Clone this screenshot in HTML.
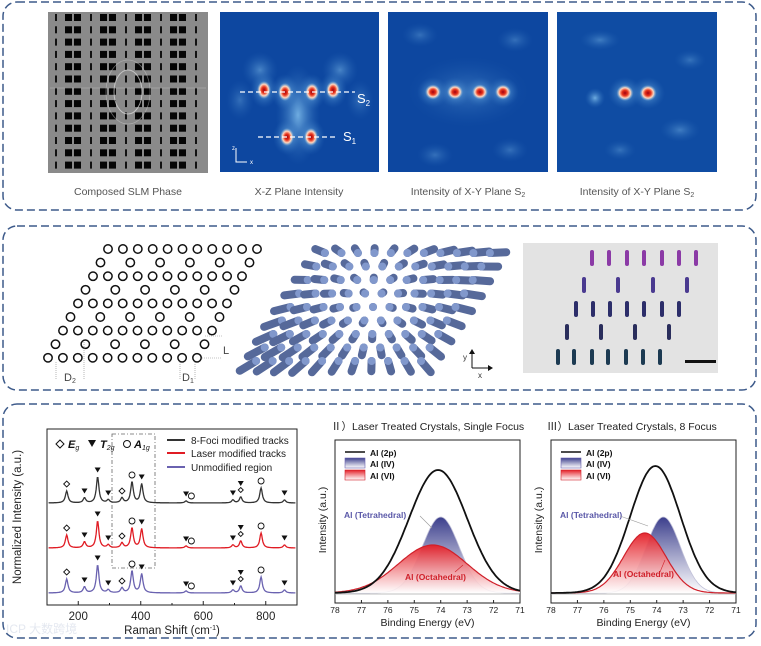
<!DOCTYPE html>
<html><head><meta charset="utf-8"><style>
html,body{margin:0;padding:0;background:#fff;}
svg{display:block;font-family:"Liberation Sans","Noto Sans CJK SC",sans-serif;}
</style></head><body>
<svg id="fig" width="761" height="646" viewBox="0 0 761 646">
<defs>
 <radialGradient id="spotR" cx="50%" cy="50%" r="50%"><stop offset="0" stop-color="#a00010"/><stop offset="0.35" stop-color="#e8361c"/><stop offset="0.65" stop-color="#ffd7c0"/><stop offset="1" stop-color="#6fb0e0" stop-opacity="0"/></radialGradient>
 <radialGradient id="glow" cx="50%" cy="50%" r="50%"><stop offset="0" stop-color="#7ab8e8" stop-opacity="0.9"/><stop offset="1" stop-color="#2a6ab8" stop-opacity="0"/></radialGradient>
 <linearGradient id="gBlue" x1="0" y1="0" x2="0" y2="1"><stop offset="0" stop-color="#3b3e8c"/><stop offset="1" stop-color="#ffffff" stop-opacity="0.9"/></linearGradient>
 <linearGradient id="gRed" x1="0" y1="0" x2="0" y2="1"><stop offset="0" stop-color="#e41e26"/><stop offset="1" stop-color="#ffffff" stop-opacity="0.9"/></linearGradient>
 <clipPath id="cpA"><rect x="220" y="12" width="159" height="160"/></clipPath>
 <clipPath id="cpB"><rect x="388" y="12" width="160" height="160"/></clipPath>
 <clipPath id="cpC"><rect x="557" y="12" width="160" height="160"/></clipPath>
</defs>

<rect x="3" y="2" width="753" height="208" rx="14" fill="none" stroke="#3d5a8a" stroke-width="1.5" stroke-dasharray="8 4"/>
<rect x="3" y="226" width="753" height="164" rx="14" fill="none" stroke="#3d5a8a" stroke-width="1.5" stroke-dasharray="8 4"/>
<rect x="3" y="404" width="753" height="234" rx="14" fill="none" stroke="#3d5a8a" stroke-width="1.5" stroke-dasharray="8 4"/>

<g id="slm"><rect x="48" y="12" width="160" height="161" fill="#8a8a8a"/></g>
<g clip-path="url(#cpA)">
 <rect x="220" y="12" width="159" height="160" fill="#0d47a0"/>
 <ellipse cx="298" cy="115" rx="22" ry="50" fill="url(#glow)"/>
 <ellipse cx="260" cy="70" rx="18" ry="18" fill="url(#glow)" opacity="0.6"/>
 <ellipse cx="340" cy="70" rx="18" ry="18" fill="url(#glow)" opacity="0.6"/>
 <ellipse cx="240" cy="100" rx="14" ry="20" fill="url(#glow)" opacity="0.4"/>
 <ellipse cx="360" cy="100" rx="14" ry="20" fill="url(#glow)" opacity="0.4"/>
 <g id="xzspots"></g>
 <line x1="240" y1="92" x2="355" y2="92" stroke="#fff" stroke-dasharray="5 3" stroke-width="1.2"/>
 <line x1="258" y1="137" x2="335" y2="137" stroke="#fff" stroke-dasharray="5 3" stroke-width="1.2"/>
 <text x="357" y="103" fill="#fff" font-size="13">S<tspan font-size="8" dy="3">2</tspan></text>
 <text x="343" y="141" fill="#fff" font-size="13">S<tspan font-size="8" dy="3">1</tspan></text>
 <path d="M236 148 V162 H247" stroke="#fff" fill="none" stroke-width="1"/>
 <text x="232" y="150" fill="#fff" font-size="6">z</text><text x="250" y="164" fill="#fff" font-size="6">x</text>
</g>
<g clip-path="url(#cpB)">
 <rect x="388" y="12" width="160" height="160" fill="#0d47a0"/>
 <ellipse cx="468" cy="92" rx="60" ry="35" fill="url(#glow)" opacity="0.4"/>
 <ellipse cx="420" cy="35" rx="18" ry="12" fill="url(#glow)" opacity="0.4"/>
 <ellipse cx="515" cy="40" rx="18" ry="12" fill="url(#glow)" opacity="0.4"/>
 <ellipse cx="435" cy="155" rx="18" ry="12" fill="url(#glow)" opacity="0.4"/>
 <ellipse cx="510" cy="150" rx="18" ry="12" fill="url(#glow)" opacity="0.4"/>
 <g id="xy1spots"></g>
</g>
<g clip-path="url(#cpC)">
 <rect x="557" y="12" width="160" height="160" fill="#0f4ca3"/>
 <ellipse cx="595" cy="98" rx="10" ry="10" fill="url(#glow)"/>
 <ellipse cx="600" cy="40" rx="20" ry="10" fill="url(#glow)" opacity="0.5"/>
 <ellipse cx="680" cy="130" rx="20" ry="12" fill="url(#glow)" opacity="0.5"/>
 <ellipse cx="690" cy="60" rx="16" ry="10" fill="url(#glow)" opacity="0.4"/>
 <ellipse cx="620" cy="150" rx="16" ry="10" fill="url(#glow)" opacity="0.4"/>
 <g id="xy2spots"></g>
</g>
<g font-size="10.5" fill="#555" text-anchor="middle">
 <text x="128" y="195">Composed SLM Phase</text>
 <text x="299" y="195">X-Z Plane Intensity</text>
 <text x="468" y="195">Intensity of X-Y Plane S<tspan font-size="7" dy="2">2</tspan></text>
 <text x="637" y="195">Intensity of X-Y Plane S<tspan font-size="7" dy="2">2</tspan></text>
</g>

<g id="hexgrid"></g>
<g font-size="11" fill="#444">
 <line x1="205" y1="336" x2="222" y2="336" stroke="#888" stroke-width="0.6" stroke-dasharray="1 1"/>
 <line x1="200" y1="358" x2="222" y2="358" stroke="#888" stroke-width="0.6" stroke-dasharray="1 1"/>
 <text x="223" y="354">L</text>
 <line x1="56" y1="362" x2="56" y2="380" stroke="#888" stroke-width="0.6" stroke-dasharray="1 1"/>
 <line x1="84" y1="342" x2="84" y2="380" stroke="#888" stroke-width="0.6" stroke-dasharray="1 1"/>
 <text x="64" y="381">D<tspan font-size="7" dy="2">2</tspan></text>
 <line x1="180" y1="362" x2="180" y2="380" stroke="#888" stroke-width="0.6" stroke-dasharray="1 1"/>
 <line x1="195" y1="362" x2="195" y2="380" stroke="#888" stroke-width="0.6" stroke-dasharray="1 1"/>
 <text x="182" y="381">D<tspan font-size="7" dy="2">1</tspan></text>
</g>
<g id="cyl"></g>
<g font-size="8" fill="#333">
 <path d="M472 368 V352 M472 368 H490" stroke="#111" stroke-width="1" fill="none"/>
 <path d="M469 354 L472 349 L475 354 Z M488 365 L493 368 L488 371 Z" fill="#111"/>
 <text x="463" y="360">y</text><text x="478" y="378">x</text>
</g>
<g>
 <rect x="523" y="243" width="195" height="130" fill="#e3e3e3"/>
 <g id="marks"></g>
 <rect x="685" y="360" width="31" height="3" fill="#111"/>
</g>

<g id="raman">
 <rect x="47" y="429" width="250" height="176" fill="none" stroke="#222" stroke-width="1"/>
 <rect x="112" y="434" width="43" height="134" fill="none" stroke="#666" stroke-width="0.8" stroke-dasharray="4 2 1 2"/>
 <g id="ramanAxis"></g>
 <g id="ramanLines"></g>
 <g id="ramanMarks"></g>
 <text x="21" y="517" transform="rotate(-90 21 517)" text-anchor="middle" font-size="11.5" fill="#222">Normalized Intensity (a.u.)</text>
 <text x="172" y="634" text-anchor="middle" font-size="11.5" fill="#222">Raman Shift (cm<tspan font-size="7" dy="-4">-1</tspan><tspan dy="4">)</tspan></text>
 <g font-size="11" fill="#111">
  <path d="M56 444 L60 440 L64 444 L60 448 Z" fill="none" stroke="#111" stroke-width="1"/>
  <text x="68" y="448" font-weight="bold" font-style="italic">E<tspan font-size="7" dy="2" font-weight="normal">g</tspan></text>
  <path d="M88 440 L96 440 L92 447 Z" fill="#111"/>
  <text x="100" y="448" font-weight="bold" font-style="italic">T<tspan font-size="7" dy="2" font-weight="normal">2g</tspan></text>
  <circle cx="127" cy="444" r="3.5" fill="none" stroke="#111"/>
  <text x="134" y="448" font-weight="bold" font-style="italic">A<tspan font-size="7" dy="2" font-weight="normal">1g</tspan></text>
 </g>
 <g font-size="10" fill="#222">
  <line x1="167" y1="440" x2="185" y2="440" stroke="#333" stroke-width="2"/><text x="191" y="444">8-Foci modified tracks</text>
  <line x1="167" y1="453" x2="185" y2="453" stroke="#e01c24" stroke-width="2"/><text x="191" y="457">Laser modified tracks</text>
  <line x1="167" y1="467" x2="185" y2="467" stroke="#6a62b0" stroke-width="2"/><text x="191" y="471">Unmodified region</text>
 </g>
</g>

<g id="xps1"></g>
<g id="xps2"></g>

<text x="6" y="633" font-size="12" fill="#e4e8f0">ICP 大数跨境</text>
</svg>

<script>
const ramanPeakPos = [163,220,262,296,340,372,403,545,695,720,785,860];
const ramanBlack = [12,5,26,3,5,21,19,2,3,6,15,3];
const ramanRed   = [13,6,27,3,5,20,19,2,3,7,15,3];
const ramanBlue  = [14,6,28,3,5,22,19,2,3,7,16,3];
const ramanMarkerType = ['d','t','t','t','d','c','t','t','t','td','c','t'];
const ramanTicks = [200,400,600,800];
const xps1Total = [74.1,123,1.1];
const xps1Tet   = [74.0,76,0.7];
const xps1Oct   = [74.3,48,1.3];
const xps2Total = [74.05,127,0.95];
const xps2Tet   = [73.75,76,0.65];
const xps2Oct   = [74.45,60,0.8];
const xpsTicks = [78,77,76,75,74,73,72,71];

const NS='http://www.w3.org/2000/svg';
function mk(tag,attrs,parent){const e=document.createElementNS(NS,tag);for(const k in attrs)e.setAttribute(k,attrs[k]);if(parent)parent.appendChild(e);return e;}
const $=id=>document.getElementById(id);

(function(){const g=$('slm');
 for(let r=0;r<13;r++){const y=14+r*12.3;
  for(let p=0;p<5;p++){const bx=56+p*35;
   mk('rect',{x:bx-1,y:y,width:2,height:7,fill:'#111'},g);
   if(p<4){mk('rect',{x:bx+9,y:y,width:7,height:7,fill:'#050505'},g);mk('rect',{x:bx+18,y:y,width:7,height:7,fill:'#050505'},g);}
  }}
 mk('ellipse',{cx:128,cy:92,rx:14,ry:22,fill:'none',stroke:'#ddd','stroke-width':1,opacity:0.7},g);
 mk('ellipse',{cx:128,cy:92,rx:22,ry:32,fill:'none',stroke:'#ccc','stroke-width':0.8,opacity:0.5},g);
 mk('line',{x1:50,y1:88,x2:206,y2:88,stroke:'#bbb','stroke-width':1,opacity:0.5},g);
})();
function spots(id,pts,rx,ry){const g=$(id);pts.forEach(p=>{mk('ellipse',{cx:p[0],cy:p[1],rx:rx*2,ry:ry*2,fill:'url(#glow)'},g);mk('ellipse',{cx:p[0],cy:p[1],rx:rx,ry:ry,fill:'url(#spotR)'},g);});}
spots('xzspots',[[264,90],[285,92],[312,92],[333,90],[287,137],[311,137]],7,9);
spots('xy1spots',[[433,92],[455,92],[480,92],[503,92]],8,7.5);
spots('xy2spots',[[625,93],[648,93]],8.5,8);

(function(){const g=$('hexgrid');
 for(let r=0;r<9;r++){const y=249+r*13.6;const x0=108-r*7.5;
  const dense=r%2===0;const n=dense?11:6;const sp=dense?14.9:29.8;
  for(let i=0;i<n;i++){const c=mk('circle',{cx:x0+i*sp,cy:y,r:4.2,fill:'none',stroke:'#111','stroke-width':1.5},g);
   
   }
 }})();

(function(){const g=$('cyl');const cx=373,cy=307;
 const items=[];
 for(let r=-4;r<=4;r++)for(let c=-5;c<=5;c++){
  const x=cx+c*16.5-r*8.6, y=cy+r*13.5;
  items.push([x,y]);}
 items.sort((a,b)=>a[1]-b[1]);
 items.forEach(([x,y])=>{const dx=x-cx,dy=y-cy;const d=Math.hypot(dx,dy);
  const L=Math.min(d*0.2,18); const ux=d?dx/d:0, uy=d?dy/d:0;
  const x2=x+ux*L, y2=y+uy*L*0.7+L*0.25;
  mk('line',{x1:x,y1:y,x2:x2,y2:y2,stroke:'#56699a','stroke-width':8,'stroke-linecap':'round'},g);
  mk('ellipse',{cx:x,cy:y,rx:4,ry:4,fill:'#8198cc'},g);
 });})();

(function(){const g=$('marks');
 const rows=[[258,[592,609,627,644,662,679,696],'#8b3aa6'],[285,[584,618,653,687],'#4a3a90'],[309,[576,593,610,627,644,662,679],'#2c2e6a'],[332,[567,601,635,669],'#2a2e5c'],[357,[558,574,592,608,626,643,660],'#1c3a52']];
 rows.forEach(([y,xs,col])=>xs.forEach(x=>mk('rect',{x:x-2,y:y-8,width:4,height:16,rx:2,fill:col},g)));})();

(function(){
 const X0=47,X1=297,D0=100,D1=900;
 const xs=v=>X0+(v-D0)/(D1-D0)*(X1-X0);
 const ax=$('ramanAxis');
 ramanTicks.forEach(t=>{mk('line',{x1:xs(t),y1:605,x2:xs(t),y2:601,stroke:'#222'},ax);
  const tx=mk('text',{x:xs(t),y:620,'text-anchor':'middle','font-size':'11.5',fill:'#222'},ax);tx.textContent=t;});
 [300,500,700].forEach(t=>mk('line',{x1:xs(t),y1:605,x2:xs(t),y2:603,stroke:'#222'},ax));
 const series=[[ramanBlack,503,'#333','raman-line-8-foci'],[ramanRed,548,'#e01c24','raman-line-laser'],[ramanBlue,593,'#6a62b0','raman-line-unmodified']];
 const lg=$('ramanLines'),mg=$('ramanMarks');
 series.forEach(([h,base,col,name])=>{
  let d='';
  for(let v=D0+5;v<=D1-5;v+=2){let s=0;ramanPeakPos.forEach((p,i)=>{const w=5;s+=h[i]*w*w/((v-p)*(v-p)+w*w);});
   d+=(d?'L':'M')+xs(v).toFixed(1)+' '+(base-s).toFixed(1);}
  const pth=mk('path',{d:d,fill:'none',stroke:col,'stroke-width':1.3},lg);
  
  
  ramanPeakPos.forEach((p,i)=>{const x=xs(p),y=base-h[i]-7;const t=ramanMarkerType[i];
   if(t==='d')mk('path',{d:`M${x-3} ${y} L${x} ${y-3} L${x+3} ${y} L${x} ${y+3}Z`,fill:'none',stroke:'#111','stroke-width':0.9},mg);
   else if(t==='c')mk('circle',{cx:x,cy:y,r:3,fill:'none',stroke:'#111','stroke-width':0.9},mg);
   else if(t==='t')mk('path',{d:`M${x-3} ${y-2.5} L${x+3} ${y-2.5} L${x} ${y+2.5}Z`,fill:'#111'},mg);
   else {mk('path',{d:`M${x-2.5} ${y} L${x} ${y-2.5} L${x+2.5} ${y} L${x} ${y+2.5}Z`,fill:'none',stroke:'#111','stroke-width':0.9},mg);
    mk('path',{d:`M${x-3} ${y-9} L${x+3} ${y-9} L${x} ${y-4}Z`,fill:'#111'},mg);}
  });
 });
 series.forEach(([h,base])=>{mk('circle',{cx:xs(562),cy:base-h[7]-5,r:3,fill:'none',stroke:'#111','stroke-width':0.9},mg);});
})();

function xps(id,X0,title,tot,tet,oct,tetLbl,octLbl){
 const g=$(id);const X1=X0+185,Y0=440,Y1=603,base=593;
 const xs=v=>X0+(78-v)/7*(X1-X0);
 const gauss=(p,v)=>p[1]*Math.exp(-0.5*((v-p[0])/p[2])**2);
 const path=(p,close)=>{let d='';for(let v=78;v>=71-1e-6;v-=0.05){d+=(d?'L':'M')+xs(v).toFixed(1)+' '+(base-gauss(p,v)).toFixed(1);}
  if(close)d+=`L${X1} ${base} L${X0} ${base}Z`;return d;};
 const t=mk('text',{x:X0-4,y:430,'font-size':'10.5',fill:'#222'},g);t.textContent=title;
 mk('rect',{x:X0,y:Y0,width:X1-X0,height:Y1-Y0,fill:'none',stroke:'#222'},g);
 let f=mk('path',{d:path(tet,true),fill:'url(#gBlue)'},g);
 
 
 mk('path',{d:path(tet,false),fill:'none',stroke:'#c0c0d8','stroke-width':0.8},g);
 f=mk('path',{d:path(oct,true),fill:'url(#gRed)','fill-opacity':0.95},g);
 
 
 mk('path',{d:path(oct,false),fill:'none',stroke:'#d0202a','stroke-width':1.2},g);
 mk('line',{x1:X0,y1:base+1,x2:X1,y2:base+1,stroke:'#aaa','stroke-width':0.8},g);
 f=mk('path',{d:path(tot,false),fill:'none',stroke:'#111','stroke-width':1.8},g);
 
 
 xpsTicks.forEach(v=>{mk('line',{x1:xs(v),y1:Y1,x2:xs(v),y2:Y1-3,stroke:'#222'},g);
  const tt=mk('text',{x:xs(v),y:613,'text-anchor':'middle','font-size':'8.5',fill:'#222'},g);tt.textContent=v;});
 const xl=mk('text',{x:(X0+X1)/2,y:626,'text-anchor':'middle','font-size':'10.5',fill:'#222'},g);xl.textContent='Binding Energy (eV)';
 const yl=mk('text',{x:X0-9,y:520,'text-anchor':'middle','font-size':'10.5',fill:'#222',transform:`rotate(-90 ${X0-9} 520)`},g);yl.textContent='Intensity (a.u.)';
 mk('line',{x1:X0+10,y1:452,x2:X0+30,y2:452,stroke:'#111','stroke-width':1.5},g);
 mk('rect',{x:X0+10,y:458,width:20,height:10,fill:'url(#gBlue)',stroke:'#6a62b0','stroke-width':0.6},g);
 mk('rect',{x:X0+10,y:470,width:20,height:10,fill:'url(#gRed)',stroke:'#d0202a','stroke-width':0.6},g);
 [['Al (2p)',456],['Al (IV)',467],['Al (VI)',479]].forEach(([s,y])=>{const e=mk('text',{x:X0+35,y:y,'font-size':'8.5','font-weight':'bold',fill:'#111'},g);e.textContent=s;});
 let e=mk('text',{x:X0+9,y:518,'font-size':'8.5','font-weight':'bold',fill:'#5a58a8'},g);e.textContent='Al (Tetrahedral)';
 mk('line',{x1:tetLbl[0],y1:tetLbl[1],x2:tetLbl[2],y2:tetLbl[3],stroke:'#999','stroke-width':0.6},g);
 e=mk('text',{x:octLbl[0],y:octLbl[1],'font-size':'8.5','font-weight':'bold',fill:'#d0202a'},g);e.textContent='Al (Octahedral)';
 mk('line',{x1:octLbl[2],y1:octLbl[3],x2:octLbl[4],y2:octLbl[5],stroke:'#d0202a','stroke-width':0.6},g);
}
xps('xps1',335,'Ⅱ）Laser Treated Crystals, Single Focus',xps1Total,xps1Tet,xps1Oct,[420,516,432,528],[405,580,455,572,463,565]);
xps('xps2',551,'Ⅲ）Laser Treated Crystals, 8 Focus',xps2Total,xps2Tet,xps2Oct,[620,516,648,526],[613,577,660,572,665,560]);
</script>
</body></html>
